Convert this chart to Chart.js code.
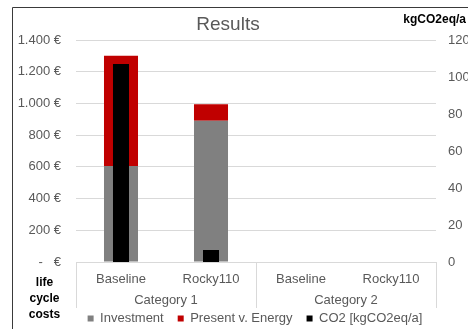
<!DOCTYPE html>
<html>
<head>
<meta charset="utf-8">
<script src="https://cdn.jsdelivr.net/npm/chart.js@4"></script>
<style>
  html, body { margin: 0; padding: 0; background: #fff; }
  canvas { display: block; }
</style>
</head>
<body>
<canvas id="chart" width="468" height="329"></canvas>
<script>
'use strict';

const variants = ['Baseline', 'Rocky110', 'Baseline', 'Rocky110'];
const groups = ['Category 1', 'Category 2'];
const investment = [605, 890, null, null];
const presentEnergy = [695, 105, null, null];
const co2 = [107, 6.5, null, null];
const costMax = 1400, costStep = 200;
const co2Max = 120, co2Step = 20;

const FONT = '"Liberation Sans", Arial, sans-serif';
Chart.defaults.font.family = FONT;
Chart.defaults.font.size = 13;
Chart.defaults.color = '#595959';

function euro(v) {
    if (v === 0) return '-   €';
    return String(v).replace(/\B(?=(\d{3})+(?!\d))/g, '.') + ' €';
}

// frame, title, side labels, category groups and separators
const extras = {
    id: 'extras',
    afterLayout(chart) {
        const lg = chart.legend;
        lg.left += 42;
        lg.top += 6;
        lg.bottom += 6;
    },
    afterDraw(chart) {
        const ctx = chart.ctx;
        const x = chart.scales.x;
        const bottom = chart.chartArea.bottom;
        ctx.save();
        ctx.strokeStyle = '#3a3a3a';
        ctx.lineWidth = 1;
        ctx.beginPath();
        ctx.moveTo(12.5, 329);
        ctx.lineTo(12.5, 7.5);
        ctx.lineTo(468, 7.5);
        ctx.stroke();

        // group separators and group labels, from the category scale
        const per = variants.length / groups.length;
        const step = (x.right - x.left) / variants.length;
        ctx.strokeStyle = '#d9d9d9';
        ctx.beginPath();
        for (let k = 0; k <= variants.length; k += per) {
            const px = Math.round(x.left + step * k) + 0.5;
            ctx.moveTo(px, bottom);
            ctx.lineTo(px, bottom + 46);
        }
        ctx.stroke();

        ctx.fillStyle = '#595959';
        ctx.font = '13px ' + FONT;
        ctx.textAlign = 'center';
        ctx.textBaseline = 'middle';
        groups.forEach((g, i) => {
            const cx = (x.getPixelForValue(i * per) + x.getPixelForValue(i * per + per - 1)) / 2;
            ctx.fillText(g, cx, bottom + 38);
        });

        ctx.font = '19px ' + FONT;
        ctx.fillText('Results', 228, 25);

        ctx.fillStyle = '#000';
        ctx.font = 'bold 12px ' + FONT;
        ctx.textAlign = 'right';
        ctx.fillText('kgCO2eq/a', 466, 20);
        ctx.textAlign = 'center';
        ctx.fillText('life', 44.5, 283);
        ctx.fillText('cycle', 44.5, 299);
        ctx.fillText('costs', 44.5, 315);
        ctx.restore();
    }
};

new Chart(document.getElementById('chart'), {
    type: 'bar',
    data: {
        labels: variants,
        datasets: [
            {
                label: 'Investment',
                data: investment,
                backgroundColor: '#808080',
                yAxisID: 'y',
                stack: 'cost',
                grouped: false,
                order: 1,
                barPercentage: 0.378,
                categoryPercentage: 1
            },
            {
                label: 'Present v. Energy',
                data: presentEnergy,
                backgroundColor: '#c00000',
                yAxisID: 'y',
                stack: 'cost',
                grouped: false,
                order: 1,
                barPercentage: 0.378,
                categoryPercentage: 1
            },
            {
                label: 'CO2 [kgCO2eq/a]',
                data: co2,
                backgroundColor: '#000000',
                yAxisID: 'y1',
                grouped: false,
                order: 0,
                barPercentage: 0.178,
                categoryPercentage: 1
            }
        ]
    },
    options: {
        responsive: false,
        animation: false,
        layout: { padding: { top: 40, left: 0, right: 0, bottom: 0 } },
        scales: {
            x: {
                offset: true,
                grid: { display: false, drawTicks: false },
                border: { display: true, color: '#d9d9d9' },
                ticks: { padding: 10, autoSkip: false, maxRotation: 0 },
                afterFit(s) { s.height = 30; }
            },
            y: {
                position: 'left',
                stacked: true,
                min: 0,
                max: costMax,
                grid: { color: '#d9d9d9', drawTicks: false },
                border: { display: false },
                ticks: { stepSize: costStep, padding: 15, callback: euro },
                afterFit(s) { s.width = 76; }
            },
            y1: {
                position: 'right',
                min: 0,
                max: co2Max,
                grid: { display: false, drawTicks: false },
                border: { display: false },
                ticks: { stepSize: co2Step, padding: 12 },
                afterFit(s) { s.width = 32; }
            }
        },
        plugins: {
            title: { display: false },
            tooltip: { enabled: false },
            legend: {
                position: 'bottom',
                labels: {
                    boxWidth: 6,
                    boxHeight: 6,
                    padding: 14,
                    color: '#595959',
                    sort: (a, b) => a.datasetIndex - b.datasetIndex
                }
            }
        }
    },
    plugins: [extras]
});
</script>
</body>
</html>
